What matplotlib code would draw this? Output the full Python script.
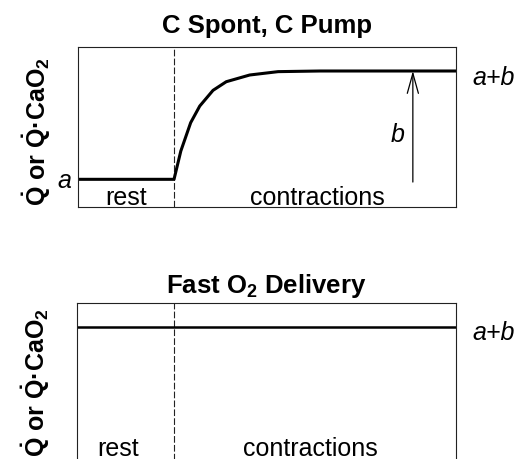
import matplotlib
matplotlib.use("Agg")
import matplotlib.pyplot as plt

plt.rcParams['font.family'] = ['Liberation Sans', 'DejaVu Sans']
plt.rcParams['mathtext.fontset'] = 'custom'
plt.rcParams['mathtext.rm'] = 'Liberation Sans'
plt.rcParams['mathtext.bf'] = 'Liberation Sans:bold'
plt.rcParams['mathtext.it'] = 'Liberation Sans:italic'

# ---- data (arbitrary units: time 0-100, response 0-1) ----
onset = 25.5
a_val = 0.173
ab_val = 0.85
time_top = [0, 25.5, 27.3, 29.9, 32.3, 35.8, 39.3, 45.5, 53.0, 64.1, 100]
resp_top = [0.173, 0.173, 0.35, 0.527, 0.631, 0.729, 0.783, 0.825, 0.846, 0.85, 0.85]
time_bot = [0, 100]
resp_bot = [0.85, 0.85]
titles = ["C Spont, C Pump", r"Fast O$_\mathbf{2}$ Delivery"]
ylabel = r"$\mathbf{\dot{Q}}$ or $\mathbf{\dot{Q}}$·CaO$_\mathbf{2}$"
arrow_x = 88.6
arrow_bottom = 0.156

W, H = 524, 460
fig = plt.figure(figsize=(W / 100, H / 100), dpi=100)

def px_axes(l, t, r, b):
    return fig.add_axes([l / W, 1 - b / H, (r - l) / W, (b - t) / H])

ax1 = px_axes(77.5, 48, 456, 208)
ax2 = px_axes(77, 304, 456, 462)

for ax in (ax1, ax2):
    ax.set_xlim(0, 100)
    ax.set_ylim(0, 1)
    ax.set_xticks([])
    ax.set_yticks([])
    for s in ax.spines.values():
        s.set_linewidth(0.8)
        s.set_color('#222222')
    ax.axvline(onset, color='#222222', lw=0.8, dashes=(6, 2))

# top panel
ax1.plot(time_top, resp_top, color='black', lw=2.2, solid_joinstyle='round')
ax1.set_title(titles[0], fontsize=18.5, fontweight='bold', pad=11)
ax1.annotate('', xy=(arrow_x, ab_val), xytext=(arrow_x, arrow_bottom),
             arrowprops=dict(arrowstyle='->,head_length=0.72,head_width=0.2',
                             lw=0.9, color='black', mutation_scale=20,
                             shrinkA=0, shrinkB=0))
ax1.annotate('b', xy=(arrow_x, 0.4125), xytext=(-6, 0), textcoords='offset points',
             ha='right', va='baseline', fontsize=18, style='italic')
ax1.annotate('a', xy=(0, a_val), xycoords=('axes fraction', 'data'),
             xytext=(-4.3, -5.8), textcoords='offset points',
             ha='right', va='baseline', fontsize=18, style='italic')
ax1.annotate('a+b', xy=(1, ab_val), xycoords=('axes fraction', 'data'),
             xytext=(12, -9.4), textcoords='offset points',
             ha='left', va='baseline', fontsize=18, style='italic')
ax1.text(12.7, 0.019, 'rest', ha='center', va='baseline', fontsize=18)
ax1.text(63.4, 0.019, 'contractions', ha='center', va='baseline', fontsize=18)
ax1.set_ylabel(ylabel, fontsize=18, fontweight='bold')
ax1.yaxis.set_label_coords(-0.065, 0.48)

# bottom panel
ax2.plot(time_bot, resp_bot, color='black', lw=1.8)
ax2.set_title(titles[1], fontsize=18.5, fontweight='bold', pad=8)
ax2.annotate('a+b', xy=(1, ab_val), xycoords=('axes fraction', 'data'),
             xytext=(12, -8.6), textcoords='offset points',
             ha='left', va='baseline', fontsize=18, style='italic')
ax2.text(10.9, 0.038, 'rest', ha='center', va='baseline', fontsize=18)
ax2.text(61.7, 0.038, 'contractions', ha='center', va='baseline', fontsize=18)
ax2.set_ylabel(ylabel, fontsize=18, fontweight='bold')
ax2.yaxis.set_label_coords(-0.065, 0.5)

fig.savefig('out.png', dpi=100)
